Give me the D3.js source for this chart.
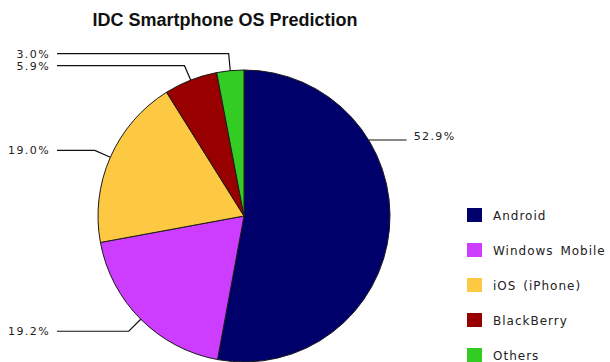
<!DOCTYPE html>
<html><head><meta charset="utf-8">
<script src="https://cdn.jsdelivr.net/npm/d3@7"></script>
<style>body{margin:0;background:#fff}svg{display:block}</style>
</head><body>
<svg id="c" width="610" height="362"></svg>
<script>
const categories = ["Android", "Windows Mobile", "iOS (iPhone)", "BlackBerry", "Others"];
const shares = [52.9, 19.2, 19.0, 5.9, 3.0];
const colors = ["#00006a", "#cc3dff", "#fdc842", "#980000", "#33cc22"];
const title = "IDC Smartphone OS Prediction";

const svg = d3.select("#c");
const cx = 244, cy = 216, R = 146;

svg.append("text").attr("x", 225).attr("y", 26).attr("text-anchor", "middle")
  .attr("font-family", "Liberation Sans, Arial, sans-serif").attr("font-weight", "bold")
  .attr("font-size", 18).attr("fill", "#111").text(title);

const data = categories.map((c, i) => ({ name: c, value: shares[i], color: colors[i] }));
const pie = d3.pie().value(d => d.value).sort(null);
const arcs = pie(data);
const arc = d3.arc().innerRadius(0).outerRadius(R);

const g = svg.append("g").attr("transform", `translate(${cx},${cy})`);
g.selectAll("path").data(arcs).join("path")
  .attr("d", arc).attr("fill", d => d.data.color)
  .attr("stroke", "#1a1a1a").attr("stroke-width", 1);

// labels
const lab = svg.append("g");
const font = "DejaVu Sans, Verdana, sans-serif";
let lastLeftY = -Infinity;
const leftItems = arcs.map(a => ({ a, mid: (a.startAngle + a.endAngle) / 2 }))
  .filter(d => d.mid > Math.PI).sort((p, q) => q.mid - p.mid);
leftItems.forEach(({ a, mid }) => {
  const ax = cx + R * Math.sin(mid), ay = cy - R * Math.cos(mid);
  const ex = cx + (R + 17) * Math.sin(mid);
  let ey = cy - (R + 17) * Math.cos(mid);
  if (ey < lastLeftY + 12) ey = lastLeftY + 12;
  lastLeftY = ey;
  lab.append("path").attr("d", `M${ax},${ay}L${ex},${ey}L57,${ey}`)
    .attr("fill", "none").attr("stroke", "#111").attr("stroke-width", 1.2);
  lab.append("text").attr("x", 50).attr("y", ey + 4).attr("text-anchor", "end")
    .attr("font-family", font).attr("font-size", 11).attr("letter-spacing", 1.4).attr("fill", "#222")
    .text(d3.format(".1f")(a.data.value) + "%");
});
arcs.filter(a => (a.startAngle + a.endAngle) / 2 <= Math.PI).forEach(a => {
  const ang = Math.min((a.startAngle + a.endAngle) / 2, Math.PI / 3.07);
  const ax = cx + R * Math.sin(ang), ay = cy - R * Math.cos(ang);
  lab.append("path").attr("d", `M${ax},${ay}L${ax + 38},${ay}`)
    .attr("fill", "none").attr("stroke", "#111").attr("stroke-width", 1.2);
  lab.append("text").attr("x", ax + 45).attr("y", ay)
    .attr("font-family", font).attr("font-size", 11).attr("letter-spacing", 1.4).attr("fill", "#222")
    .text(d3.format(".1f")(a.data.value) + "%");
});

// legend
const leg = svg.append("g").attr("transform", "translate(467,208)");
const ly = d3.scaleBand().domain(categories).range([0, 175]);
const items = leg.selectAll("g").data(data).join("g")
  .attr("transform", d => `translate(0,${ly(d.name)})`);
items.append("rect").attr("width", 15).attr("height", 14).attr("fill", d => d.color);
items.append("text").attr("x", 26).attr("y", 12)
  .attr("font-family", font).attr("font-size", 12).attr("fill", "#222")
  .attr("letter-spacing", 1).attr("word-spacing", 2)
  .text(d => d.name);
</script>
</body></html>
